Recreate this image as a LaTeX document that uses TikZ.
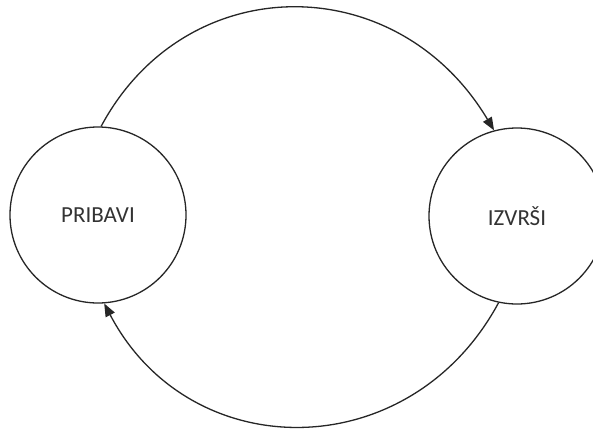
\documentclass[tikz,border=0pt]{standalone}
\usepackage{fontspec}
\setmainfont{Carlito}
\usetikzlibrary{arrows.meta}
\begin{document}
\begin{tikzpicture}[x=1pt,y=-1pt,
  state/.style={circle,draw=black!85,line width=1.3pt,minimum size=176pt,inner sep=0pt,
    font=\fontsize{23}{26}\selectfont,text=black!80},
  flow/.style={draw=black!85,line width=1.3pt,-{Triangle[length=13pt,width=10pt]}}]
  \clip (0,0) rectangle (593,431);
  \fill[white] (0,0) rectangle (593,431);
  \node[state] (p) at (98,215) {PRIBAVI};
  \node[state] (i) at (517,216) {IZVRŠI};
  % upper arc: PRIBAVI -> IZVRŠI
  \draw[flow] (p.88) .. controls (186,-32) and (397,-32) .. (i.105);
  % lower arc: IZVRŠI -> PRIBAVI
  \draw[flow] (i.258) .. controls (410,467) and (190,467) .. (p.-86);
\end{tikzpicture}
\end{document}
